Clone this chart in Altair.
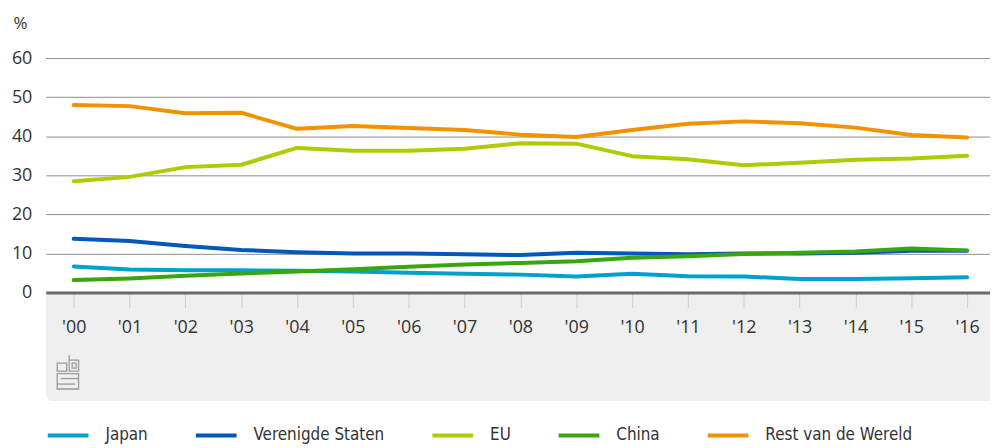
import altair as alt
import pandas as pd

years = list(range(2000, 2017))
series_names = ["Japan", "Verenigde Staten", "EU", "China", "Rest van de Wereld"]
series_colors = ["#00a1cd", "#0058b8", "#afcb05", "#3aa60f", "#f39200"]

japan = [6.7, 5.9, 5.7, 5.7, 5.6, 5.4, 5.1, 4.8, 4.6, 4.1, 4.8, 4.2, 4.1, 3.5, 3.5, 3.7, 3.9]
vs = [13.8, 13.2, 11.9, 10.9, 10.3, 10.0, 10.0, 9.8, 9.6, 10.2, 10.0, 9.8, 10.0, 10.0, 10.2, 10.7, 10.7]
eu = [28.5, 29.6, 32.1, 32.7, 37.0, 36.3, 36.3, 36.8, 38.2, 38.1, 34.9, 34.1, 32.6, 33.2, 34.0, 34.3, 35.0]
china = [3.2, 3.6, 4.3, 4.9, 5.4, 6.0, 6.6, 7.2, 7.6, 8.0, 8.9, 9.3, 9.9, 10.2, 10.5, 11.3, 10.8]
rest = [48.0, 47.7, 45.9, 46.0, 41.9, 42.6, 42.1, 41.6, 40.4, 39.8, 41.6, 43.2, 43.8, 43.3, 42.2, 40.3, 39.7]

y_ticks = [0, 10, 20, 30, 40, 50, 60]

rows = []
for name, vals in zip(series_names, [japan, vs, eu, china, rest]):
    for yr, v in zip(years, vals):
        rows.append({"jaar": yr, "serie": name, "waarde": v})
df = pd.DataFrame(rows)

W, H = 950, 236
AX_FONT = "Open Sans"
LEG_FONT = "DejaVu Sans Condensed, Liberation Sans Narrow, Roboto"
one = alt.InlineData(values=[{"k": 1}])

band = alt.Chart(one).mark_rect(color="#efefef", cornerRadiusBottomLeft=7).encode(
    x=alt.value(0), x2=alt.value(W + 5), y=alt.value(H), y2=alt.value(H + 109)
)

LOGO = "#9a9a9a"


def logo_rect(x, x2, y, y2):
    return alt.Chart(one).mark_rect(filled=False, stroke=LOGO, strokeWidth=1.3).encode(
        x=alt.value(x), x2=alt.value(x2), y=alt.value(y), y2=alt.value(y2)
    )


def logo_rule(x, x2, y, y2):
    return alt.Chart(one).mark_rule(stroke=LOGO, strokeWidth=1.3).encode(
        x=alt.value(x), x2=alt.value(x2), y=alt.value(y), y2=alt.value(y2)
    )


logo = [
    logo_rect(11.5, 21, 307, 315),
    logo_rect(23.5, 33, 304, 315),
    logo_rect(26.5, 30.5, 307, 312),
    logo_rule(23.5, 23.5, 299, 304),
    logo_rect(11.5, 33, 317.5, 333),
    logo_rule(15, 33, 322.5, 322.5),
    logo_rule(11.5, 29.5, 328, 328),
]

lines = alt.Chart(df).mark_line(strokeWidth=4, strokeCap="round", strokeJoin="round").encode(
    x=alt.X(
        "jaar:Q",
        scale=alt.Scale(domain=[1999.5, 2016.41], nice=False, zero=False),
        axis=alt.Axis(
            values=years,
            title=None,
            labelExpr="\"'\" + substring(toString(datum.value), 2)",
            grid=False,
            domainColor="#6b6b6b",
            domainWidth=3,
            tickColor="#cfcfcf",
            tickSize=15,
            tickWidth=1,
            labelPadding=11,
            labelFont=AX_FONT,
            labelFontSize=18,
            labelColor="#333333",
            zindex=1,
        ),
    ),
    y=alt.Y(
        "waarde:Q",
        scale=alt.Scale(domain=[0, 60], nice=False),
        axis=alt.Axis(
            values=y_ticks,
            title="%",
            titleAngle=0,
            titleAlign="left",
            titleBaseline="middle",
            titleX=-33,
            titleY=-35,
            titleFont=AX_FONT,
            titleFontSize=17,
            titleFontWeight="normal",
            titleColor="#333333",
            grid=True,
            gridColor="#8e8e8e",
            gridWidth=1,
            domain=False,
            ticks=False,
            tickSize=0,
            labelPadding=14,
            labelFont=AX_FONT,
            labelFontSize=18,
            labelColor="#333333",
        ),
    ),
    color=alt.Color(
        "serie:N",
        scale=alt.Scale(domain=series_names, range=series_colors),
        legend=alt.Legend(
            orient="none",
            legendX=0,
            legendY=357,
            direction="horizontal",
            title=None,
            symbolType="stroke",
            symbolSize=1681,
            symbolStrokeWidth=4,
            labelOffset=15,
            columnPadding=40,
            labelFont=LEG_FONT,
            labelFontSize=17,
            labelColor="#333333",
            labelLimit=400,
        ),
    ),
)

chart = alt.layer(band, *logo, lines).properties(
    width=W,
    height=H,
    autosize=alt.AutoSizeParams(type="none"),
    padding={"left": 38, "top": 49, "right": 0, "bottom": 155},
).configure_view(stroke=None)

chart.save("out.html", embed_options={"renderer": "svg", "actions": False})
